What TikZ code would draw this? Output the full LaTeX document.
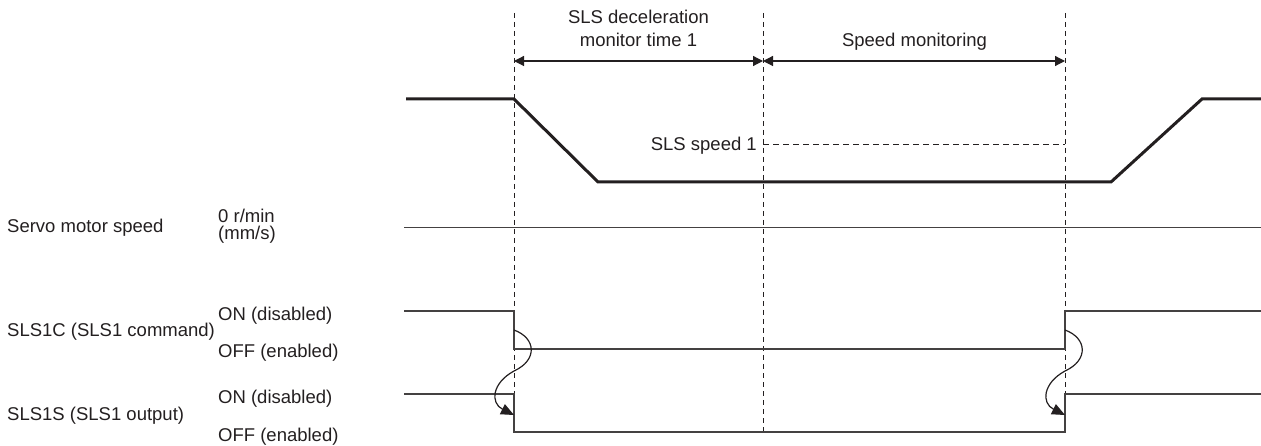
\documentclass[tikz,border=0pt]{standalone}
\usepackage{fontspec}
\setmainfont{Liberation Sans}
\usetikzlibrary{arrows.meta}
\definecolor{ink}{RGB}{35,31,32}
\begin{document}
\begin{tikzpicture}[x=1pt,y=-1pt,
  lbl/.style={inner sep=0pt, anchor=base west, text=ink, font=\fontsize{18.5}{22}\selectfont},
  ctr/.style={inner sep=0pt, anchor=base, text=ink, font=\fontsize{18.5}{22}\selectfont},
  guide/.style={draw=ink, line width=1pt, dash pattern=on 5pt off 4pt},
  refline/.style={draw=ink, line width=1pt, dash pattern=on 6pt off 4pt},
  speedline/.style={draw=ink, line width=3pt, line join=miter},
  sigline/.style={draw=ink!85, line width=1.6pt},
  zeroline/.style={draw=ink!85, line width=1pt},
  span/.style={draw=ink, line width=1.2pt, {Triangle[length=10pt,width=10pt]}-{Triangle[length=10pt,width=10pt]}},
  cause/.style={draw=ink, line width=1.2pt, -{Triangle[length=13pt,width=11pt]}}]
\useasboundingbox (0,0) rectangle (1261,446);

% guide lines
\coordinate (g1t) at (514,13);  \coordinate (g1b) at (514,432);
\coordinate (g2t) at (763,13);  \coordinate (g2b) at (763,432);
\coordinate (g3t) at (1065,13); \coordinate (g3b) at (1065,432);
\draw[guide] (g1t) -- (g1b);
\draw[guide] (g2t) -- (g2b);
\draw[guide] (g3t) -- (g3b);

% spans
\coordinate (a1) at (514,61); \coordinate (a2) at (763,61); \coordinate (a3) at (1065,61);
\draw[span] (a1) -- (a2);
\draw[span] (a2) -- (a3);
\node[ctr] (t1a) at (638.5,24) {SLS deceleration};
\node[ctr] (t1b) at (638.5,47) {monitor time 1};
\node[ctr] (t2) at (914.5,47) {Speed monitoring};

% speed
\coordinate (s0) at (406,99); \coordinate (s1) at (514,99);
\coordinate (s2) at (598,182); \coordinate (s3) at (1111,182);
\coordinate (s4) at (1202,99); \coordinate (s5) at (1261,99);
\draw[speedline] (s0) -- (s1) -- (s2) -- (s3) -- (s4) -- (s5);

\coordinate (r1) at (763,145); \coordinate (r2) at (1065,145);
\draw[refline] (r1) -- (r2);
\node[inner sep=0pt, anchor=base east, text=ink, font=\fontsize{18.5}{22}\selectfont] (sls) at (757,151) {SLS speed 1};

% zero line
\coordinate (z0) at (404,228); \coordinate (z1) at (1261,228);
\draw[zeroline] (z0) -- (z1);
\node[lbl] (servo) at (7,233) {Servo motor speed};
\node[lbl] (zr) at (218,223) {0 r/min};
\node[lbl] (zm) at (218,239.5) {(mm/s)};

% SLS1C
\coordinate (c0) at (404,311); \coordinate (c1) at (514,311);
\coordinate (c2) at (514,349); \coordinate (c3) at (1065,349);
\coordinate (c4) at (1065,311); \coordinate (c5) at (1261,311);
\draw[sigline] (c0) -- (c1) -- (c2) -- (c3) -- (c4) -- (c5);
\node[lbl] (con) at (218,320) {ON (disabled)};
\node[lbl] (cname) at (7,337) {SLS1C (SLS1 command)};
\node[lbl] (coff) at (218,357) {OFF (enabled)};

% SLS1S
\coordinate (o0) at (404,394); \coordinate (o1) at (514,394);
\coordinate (o2) at (514,432); \coordinate (o3) at (1065,432);
\coordinate (o4) at (1065,394); \coordinate (o5) at (1261,394);
\draw[sigline] (o0) -- (o1) -- (o2) -- (o3) -- (o4) -- (o5);
\node[lbl] (son) at (218,403) {ON (disabled)};
\node[lbl] (sname) at (7,420) {SLS1S (SLS1 output)};
\node[lbl] (soff) at (218,441) {OFF (enabled)};

% cause arrows
\coordinate (k1s) at (514,330); \coordinate (k1m) at (514,371); \coordinate (k1e) at (514,415);
\draw[cause] (k1s) .. controls (536,338) and (538,360) .. (k1m) .. controls (492,383) and (490,403) .. (k1e);
\coordinate (k2s) at (1065,330); \coordinate (k2m) at (1065,371); \coordinate (k2e) at (1065,415);
\draw[cause] (k2s) .. controls (1087,338) and (1089,360) .. (k2m) .. controls (1043,383) and (1041,403) .. (k2e);
\end{tikzpicture}
\end{document}
